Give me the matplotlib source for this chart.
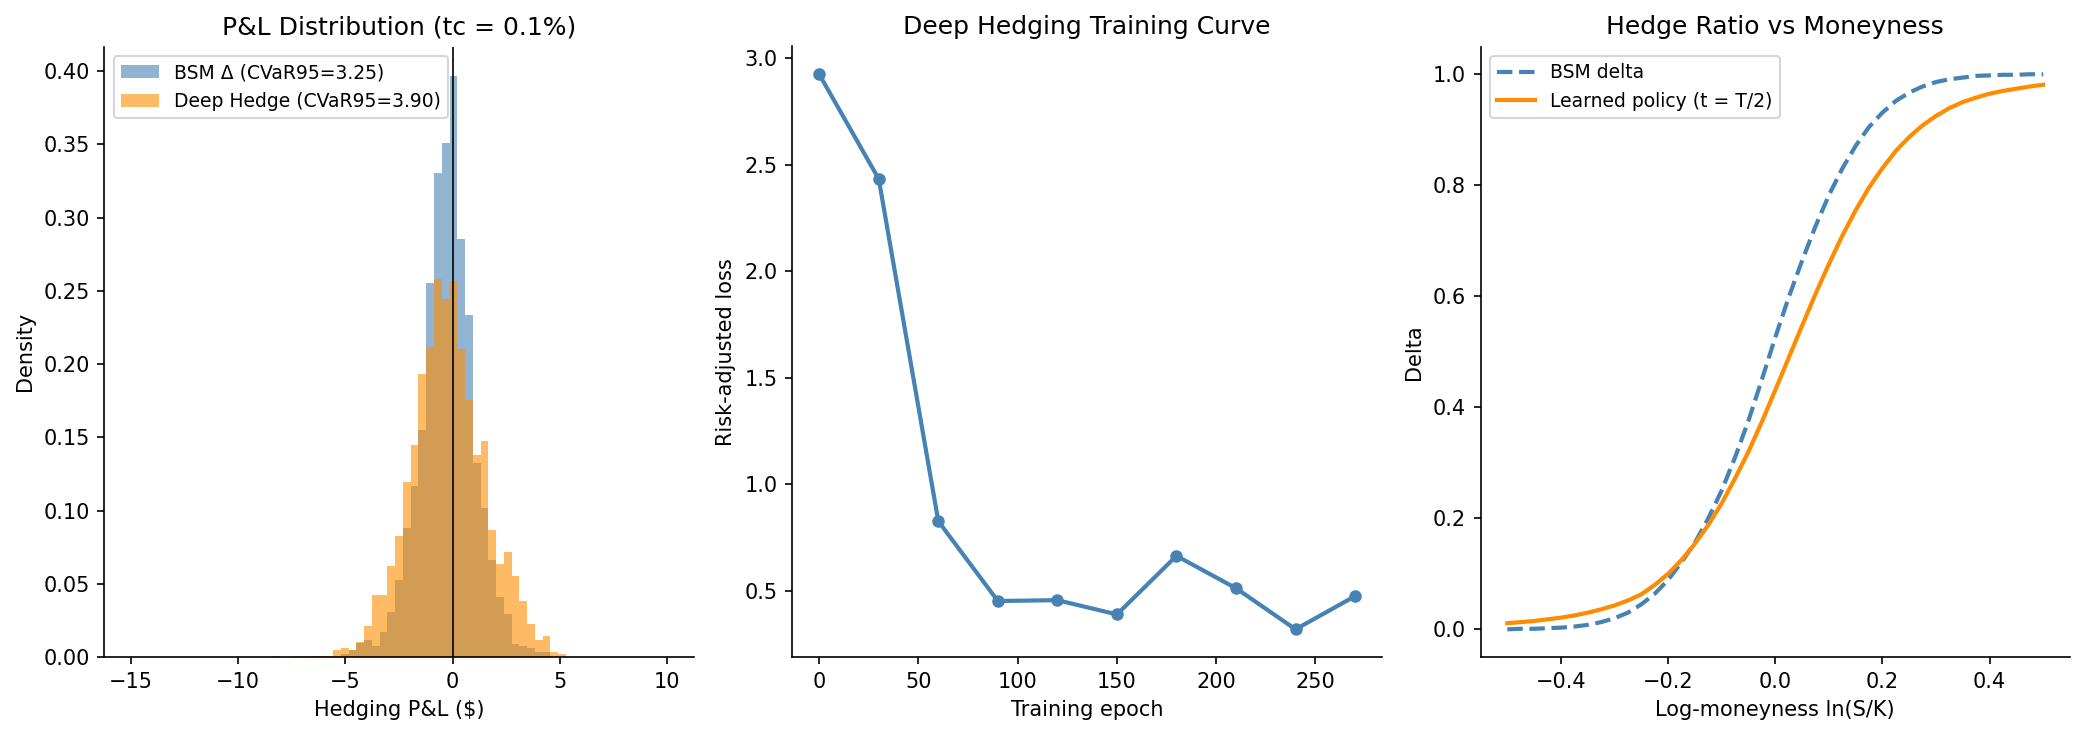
import numpy as np
import matplotlib
matplotlib.use("Agg")
import matplotlib.pyplot as plt

# ---------------- data ----------------
# Histogram: shared bin edges, densities per bin (69 bins from -15 to 10)
pnl_bin_lo = -15.0
pnl_bin_hi = 10.0
pnl_n_edges = 70
bsm_density_nonzero = {
    18: 0.001, 23: 0.001, 24: 0.001, 25: 0.001, 27: 0.002, 28: 0.0051,
    29: 0.0093, 30: 0.0119, 31: 0.0078, 32: 0.0174, 33: 0.0311, 34: 0.0524,
    35: 0.0881, 36: 0.1169, 37: 0.1547, 38: 0.2557, 39: 0.3305, 40: 0.3511,
    41: 0.3970, 42: 0.2852, 43: 0.2337, 44: 0.1327, 45: 0.1018, 46: 0.0661,
    47: 0.0407, 48: 0.0297, 49: 0.0092, 50: 0.0078, 51: 0.0064, 52: 0.0037,
    53: 0.0037,
}
deep_density_nonzero = {
    21: 0.001, 22: 0.0005, 23: 0.001, 24: 0.001, 25: 0.001, 26: 0.0050,
    27: 0.0064, 28: 0.0051, 29: 0.0105, 30: 0.0215, 31: 0.0421, 32: 0.0421,
    33: 0.0620, 34: 0.0826, 35: 0.1197, 36: 0.1450, 37: 0.1932, 38: 0.2117,
    39: 0.2584, 40: 0.2447, 41: 0.2570, 42: 0.2104, 43: 0.1754, 44: 0.1382,
    45: 0.1478, 46: 0.0867, 47: 0.0634, 48: 0.0716, 49: 0.0551, 50: 0.0380,
    51: 0.0229, 52: 0.0119, 53: 0.0146, 54: 0.0037, 55: 0.0023,
}
bsm_label = "BSM Δ (CVaR95=3.25)"
deep_label = "Deep Hedge (CVaR95=3.90)"

# Training curve
epochs = [0, 30, 60, 90, 120, 150, 180, 210, 240, 270]
loss = [2.925, 2.433, 0.826, 0.451, 0.455, 0.388, 0.663, 0.511, 0.318, 0.474]

# Hedge ratio vs moneyness
log_m = [-0.5, -0.475, -0.45, -0.425, -0.4, -0.375, -0.35, -0.325, -0.3, -0.275,
         -0.25, -0.225, -0.2, -0.175, -0.15, -0.125, -0.1, -0.075, -0.05, -0.025,
         0.0, 0.025, 0.05, 0.075, 0.1, 0.125, 0.15, 0.175, 0.2, 0.225,
         0.25, 0.275, 0.3, 0.325, 0.35, 0.375, 0.4, 0.425, 0.45, 0.475, 0.5]
bsm_delta = [0.000, 0.001, 0.001, 0.002, 0.003, 0.005, 0.008, 0.013, 0.020, 0.030,
             0.045, 0.064, 0.089, 0.121, 0.156, 0.200, 0.250, 0.310, 0.376, 0.450,
             0.526, 0.598, 0.664, 0.726, 0.782, 0.830, 0.871, 0.905, 0.931, 0.952,
             0.967, 0.978, 0.986, 0.991, 0.994, 0.997, 0.998, 0.999, 0.999, 1.000, 1.000]
learned_delta = [0.011, 0.013, 0.015, 0.018, 0.021, 0.025, 0.030, 0.036, 0.043, 0.052,
                 0.063, 0.080, 0.100, 0.125, 0.154, 0.188, 0.227, 0.272, 0.320, 0.374,
                 0.431, 0.489, 0.547, 0.604, 0.658, 0.709, 0.755, 0.796, 0.831, 0.862,
                 0.887, 0.908, 0.925, 0.939, 0.950, 0.958, 0.965, 0.970, 0.974, 0.978, 0.981]

# ---------------- plot ----------------
plt.rcParams['font.family'] = ['DejaVu Sans']
fig, axes = plt.subplots(1, 3, figsize=(14, 5), dpi=150)

edges = np.linspace(pnl_bin_lo, pnl_bin_hi, pnl_n_edges)
nbins = len(edges) - 1
bsm_h = np.zeros(nbins)
for k, v in bsm_density_nonzero.items():
    bsm_h[k] = v
deep_h = np.zeros(nbins)
for k, v in deep_density_nonzero.items():
    deep_h[k] = v

ax = axes[0]
ax.hist(edges[:-1], bins=edges, weights=bsm_h, color='steelblue', alpha=0.6, label=bsm_label)
ax.hist(edges[:-1], bins=edges, weights=deep_h, color='darkorange', alpha=0.6, label=deep_label)
ax.axvline(0, color='black', lw=0.8)
ax.set_title("P&L Distribution (tc = 0.1%)", fontsize=12)
ax.set_xlabel("Hedging P&L ($)")
ax.set_ylabel("Density")
ax.legend(loc='upper left', fontsize=9)

ax = axes[1]
ax.plot(epochs, loss, color='steelblue', lw=2, marker='o', markersize=5)
ax.set_title("Deep Hedging Training Curve", fontsize=12)
ax.set_xlabel("Training epoch")
ax.set_ylabel("Risk-adjusted loss")

ax = axes[2]
ax.plot(log_m, bsm_delta, color='steelblue', lw=2, ls='--', label='BSM delta')
ax.plot(log_m, learned_delta, color='darkorange', lw=2, label='Learned policy (t = T/2)')
ax.set_title("Hedge Ratio vs Moneyness", fontsize=12)
ax.set_xlabel("Log-moneyness ln(S/K)")
ax.set_ylabel("Delta")
ax.legend(loc='upper left', fontsize=9)

for a in axes:
    a.spines['top'].set_visible(False)
    a.spines['right'].set_visible(False)

fig.tight_layout()
fig.savefig("out.png", dpi=150, bbox_inches='tight')
